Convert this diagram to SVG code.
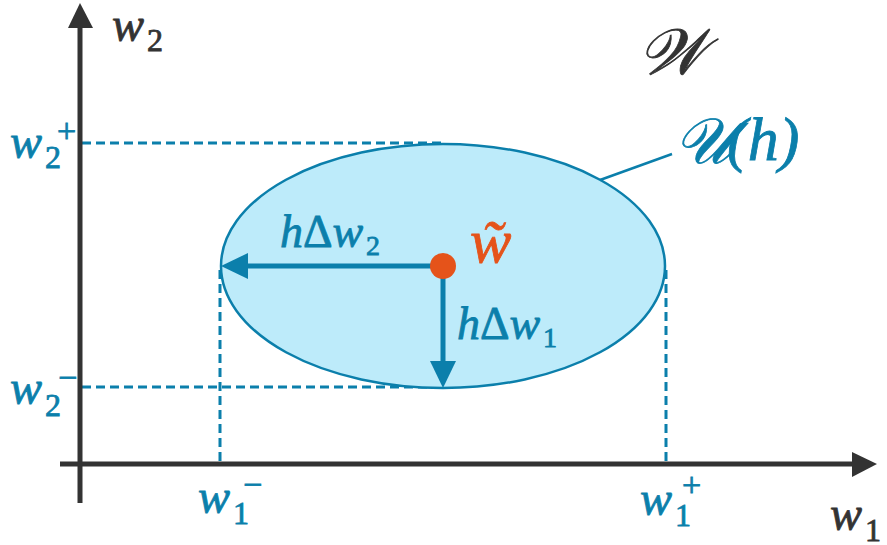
<svg xmlns="http://www.w3.org/2000/svg" width="887" height="545" viewBox="0 0 887 545">
<style>
.m{font-family:"Liberation Serif","DejaVu Serif",serif;font-style:italic}
.s{font-family:"Liberation Serif","DejaVu Serif",serif;font-style:normal}
.u{font-style:normal}
.blue{fill:#0B7FAB;stroke:#0B7FAB;stroke-width:0.8}
.dark{fill:#333333;stroke:#333333;stroke-width:0.8}
.dash{stroke:#0B7FAB;stroke-width:3;stroke-dasharray:9 5;fill:none}
</style>
<rect width="887" height="545" fill="#ffffff"/>
<g id="guides">
<line class="dash" x1="82" y1="143" x2="443" y2="143"/>
<line class="dash" x1="82" y1="387" x2="443" y2="387"/>
<line class="dash" x1="220" y1="270" x2="220" y2="462"/>
<line class="dash" x1="666" y1="270" x2="666" y2="462"/>
</g>
<g id="axes">
<line x1="80" y1="26" x2="80" y2="503" stroke="#333" stroke-width="5"/>
<polygon points="80,3 68,28 93,28" fill="#333"/>
<line x1="60" y1="464" x2="855" y2="464" stroke="#333" stroke-width="5"/>
<polygon points="877,464 852,452 852,477" fill="#333"/>
</g>
<g id="region">
<ellipse cx="443" cy="266" rx="222" ry="122" fill="#BDEBFA" stroke="#0B7FAB" stroke-width="2.5"/>
<line x1="600" y1="180" x2="672" y2="154" stroke="#0B7FAB" stroke-width="2.5"/>
</g>
<g id="connectors">
<line x1="443" y1="266" x2="245" y2="266" stroke="#0B7FAB" stroke-width="5"/>
<polygon points="221,266 248,253 248,279" fill="#0B7FAB"/>
<line x1="443" y1="266" x2="443" y2="365" stroke="#0B7FAB" stroke-width="5"/>
<polygon points="443,388 430,361 456,361" fill="#0B7FAB"/>
</g>
<g id="center">
<circle cx="443" cy="266" r="13" fill="#E5531A"/>
</g>
<g id="labels">
<text class="m dark" x="112" y="41" font-size="48">w</text><text class="s dark" x="147" y="51" font-size="32">2</text>
<text class="m blue" x="10" y="158" font-size="48">w</text><text class="s blue" x="45" y="168" font-size="32">2</text><text class="s blue" x="57" y="142" font-size="34">+</text>
<text class="m blue" x="10" y="404" font-size="48">w</text><text class="s blue" x="45" y="416" font-size="32">2</text><text class="s blue" x="58" y="389" font-size="34">−</text>
<text class="m blue" x="198" y="513" font-size="48">w</text><text class="s blue" x="233" y="524" font-size="32">1</text><text class="s blue" x="243" y="496" font-size="34">−</text>
<text class="m blue" x="640" y="515" font-size="48">w</text><text class="s blue" x="675" y="526" font-size="32">1</text><text class="s blue" x="682" y="496" font-size="34">+</text>
<text class="m dark" x="830" y="530" font-size="48">w</text><text class="s dark" x="865" y="541" font-size="32">1</text>
<text class="m blue" x="280" y="247" font-size="46">h<tspan class="u">Δ</tspan>w</text><text class="s blue" x="366" y="255" font-size="28">2</text>
<text class="m blue" x="457" y="339" font-size="46">h<tspan class="u">Δ</tspan>w</text><text class="s blue" x="543" y="347" font-size="28">1</text>
<text class="m" x="470" y="262" font-size="62" fill="#E5531A" stroke="#E5531A" stroke-width="0.8">w̃</text>
<text class="m dark" x="638" y="74" font-size="64">𝒲</text>
<text class="m blue" x="674" y="163" font-size="64">𝒰</text>
<text class="m blue" x="727" y="160" font-size="62">(h)</text>
</g>
</svg>
